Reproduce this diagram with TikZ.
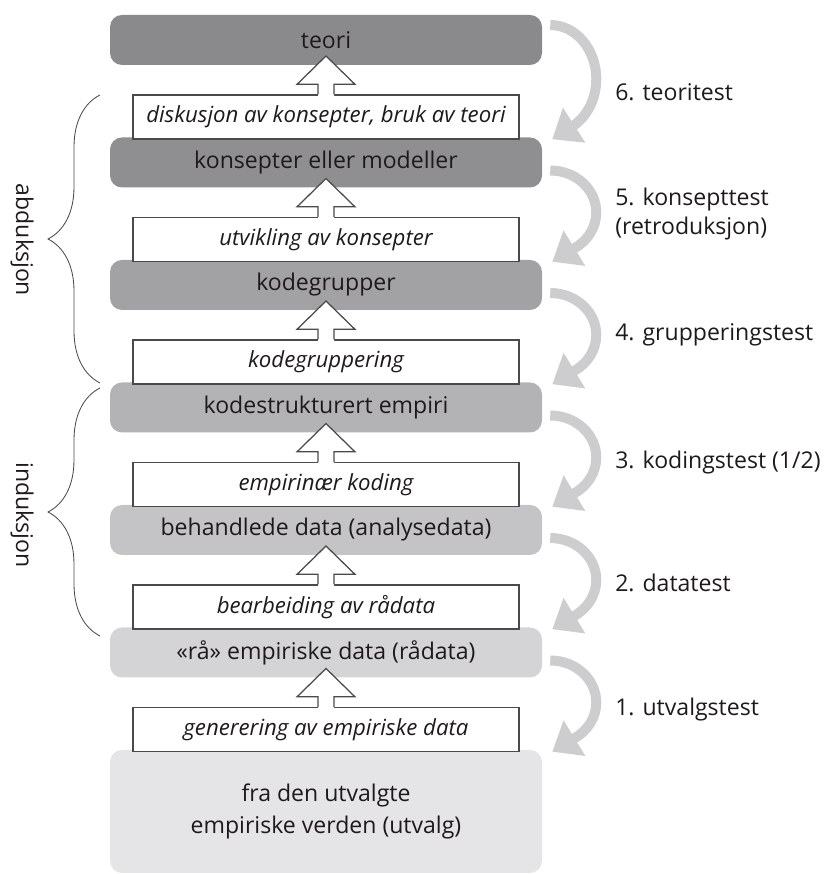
\documentclass[tikz,border=0pt]{standalone}
\usepackage{fontspec}
\setmainfont{Open Sans}
\usetikzlibrary{calc,arrows.meta,decorations.pathreplacing}

\definecolor{txt}{HTML}{1E1A1B}
\definecolor{rim}{HTML}{4A4A4A}
\definecolor{arcgray}{HTML}{CDCDCF}
\definecolor{lvlsix}{HTML}{8A8A8C}
\definecolor{lvlfive}{HTML}{8F8F91}
\definecolor{lvlfour}{HTML}{A2A2A4}
\definecolor{lvlthree}{HTML}{B3B3B5}
\definecolor{lvltwo}{HTML}{C4C4C6}
\definecolor{lvlone}{HTML}{D4D4D6}
\definecolor{lvlzero}{HTML}{E5E5E7}

\newcommand{\bodyfont}{\fontsize{16.4}{20}\selectfont}

\begin{document}
\begin{tikzpicture}[
	level/.style={rounded corners=0.3cm, minimum width=10.8cm, minimum height=1.25cm, inner sep=0pt, text=txt, font=\bodyfont},
	proc/.style={draw=rim, line width=0.9pt, fill=white, minimum width=9.65cm, minimum height=1.1cm, inner sep=0pt, text=txt, font=\fontsize{15.8}{20}\selectfont\itshape},
	testarrow/.style={line width=0.25cm, draw=arcgray, -{Triangle[length=0.65cm, width=1cm]}},
	testlabel/.style={anchor=west, inner sep=0pt, text=txt, align=left, font=\bodyfont},
	bracket/.style={decorate, decoration={brace, amplitude=1.3cm}, draw=rim, line width=0.6pt}
]
	\useasboundingbox (0,0) rectangle (20.675,21.85);

	%levels
	\node[level, fill=lvlsix] (teori) at (8.15,20.85) {teori};
	\node[level, fill=lvlfive] (konsept) at (8.15,17.7875) {konsepter eller modeller};
	\node[level, fill=lvlfour] (kodegr) at (8.15,14.725) {kodegrupper};
	\node[level, fill=lvlthree] (kodestr) at (8.15,11.6625) {kodestrukturert empiri};
	\node[level, fill=lvltwo] (behandl) at (8.15,8.6) {behandlede data (analysedata)};
	\node[level, fill=lvlone] (raa) at (8.15,5.5375) {«rå» empiriske data (rådata)};
	\node[level, fill=lvlzero, minimum height=3.075cm, align=center, font=\fontsize{16.4}{22.5}\selectfont] (utvalg) at (8.15,1.5625) {fra den utvalgte\\empiriske verden (utvalg)};

	%processes
	\node[proc] (diskusjon) at (8.15,18.925) {diskusjon av konsepter, bruk av teori};
	\node[proc] (utvikling) at (8.15,15.8625) {utvikling av konsepter};
	\node[proc] (gruppering) at (8.15,12.8) {kodegruppering};
	\node[proc] (empirinaer) at (8.15,9.7375) {empirinær koding};
	\node[proc] (bearbeiding) at (8.15,6.675) {bearbeiding av rådata};
	\node[proc] (generering) at (8.15,3.6125) {generering av empiriske data};

	%hollow arrows
	\foreach \w/\g in {diskusjon/teori, utvikling/konsept, gruppering/kodegr, empirinaer/kodestr, bearbeiding/behandl, generering/raa}
	{
		\fill[white] ($(\w.north)+(-0.2,-0.05)$) -- ++(0,0.3) -- ++(-0.525,0) -- ($(\g.center)+(0,-0.4)$) -- ($(\w.north)+(0.725,0.25)$) -- ++(-0.525,0) -- ++(0,-0.3) -- cycle;
		\draw[rim, line width=0.9pt] ($(\w.north)+(-0.2,0)$) -- ++(0,0.25) -- ++(-0.525,0) -- ($(\g.center)+(0,-0.4)$) -- ($(\w.north)+(0.725,0.25)$) -- ++(-0.525,0) -- ++(0,-0.25);
	}

	%tests
	\draw[testarrow] ($(teori.east)+(0.2,0.375)$) arc[start angle=90, end angle=-60, x radius=1.15cm, y radius=1.35cm] -- ($(konsept.north east)+(0.25,-0.05)$);
	\draw[testarrow] ($(konsept.east)+(0.2,-0.2)$) arc[start angle=90, end angle=-60, x radius=1.15cm, y radius=1.05cm] -- ($(kodegr.north east)+(0.25,-0.05)$);
	\draw[testarrow] ($(kodegr.east)+(0.2,-0.2)$) arc[start angle=90, end angle=-60, x radius=1.15cm, y radius=1.05cm] -- ($(kodestr.north east)+(0.25,-0.05)$);
	\draw[testarrow] ($(kodestr.east)+(0.2,-0.2)$) arc[start angle=90, end angle=-60, x radius=1.15cm, y radius=1.05cm] -- ($(behandl.north east)+(0.25,-0.05)$);
	\draw[testarrow] ($(behandl.east)+(0.2,-0.2)$) arc[start angle=90, end angle=-60, x radius=1.15cm, y radius=1.05cm] -- ($(raa.north east)+(0.25,-0.05)$);
	\draw[testarrow] ($(raa.east)+(0.2,-0.2)$) arc[start angle=90, end angle=-60, x radius=1.15cm, y radius=1.05cm] -- ($(utvalg.north east)+(0.25,-0.05)$);

	\node[testlabel] (t6) at (15.375,19.55) {6. teoritest};
	\node[testlabel] (t5) at (15.375,16.5) {5. konsepttest\\(retroduksjon)};
	\node[testlabel] (t4) at (15.375,13.475) {4. grupperingstest};
	\node[testlabel] (t3) at (15.375,10.275) {3. kodingstest (1/2)};
	\node[testlabel] (t2) at (15.375,7.275) {2. datatest};
	\node[testlabel] (t1) at (15.375,4.1) {1. utvalgstest};

	%braces
	\draw[bracket] (2.5,12.275) -- (2.5,19.475);
	\draw[bracket] (2.5,5.95) -- (2.5,12.15);
	\node[rotate=-90, text=txt, font=\bodyfont] (abd) at (0.55,15.85) {abduksjon};
	\node[rotate=-90, text=txt, font=\bodyfont] (ind) at (0.55,8.975) {induksjon};
\end{tikzpicture}
\end{document}
